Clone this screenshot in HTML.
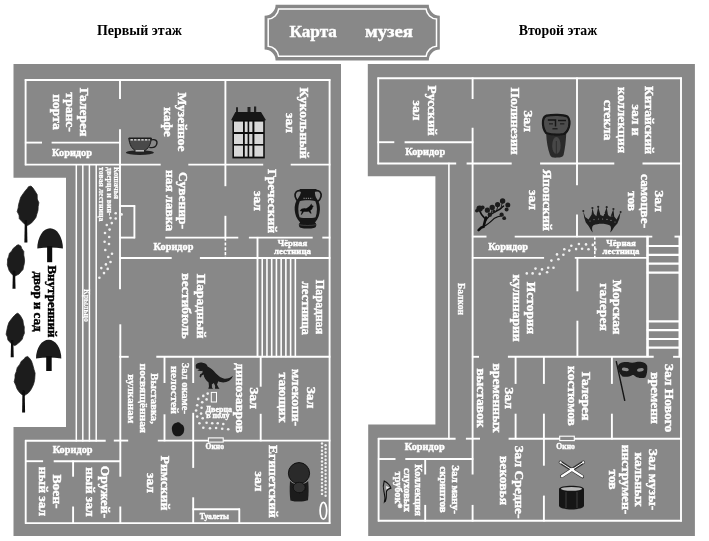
<!DOCTYPE html>
<html><head><meta charset="utf-8"><title>Карта музея</title>
<style>html,body{margin:0;padding:0;background:#fff}svg{display:block}text{font-family:"Liberation Serif",serif}</style>
</head><body>
<svg width="709" height="541" viewBox="0 0 709 541">
<defs><filter id="soft" x="0" y="0" width="709" height="541" filterUnits="userSpaceOnUse"><feGaussianBlur stdDeviation="0.45"/></filter></defs>
<rect width="709" height="541" fill="#fff"/>
<g filter="url(#soft)">
<path d="M13.5 64 H341 V536 H13.5 V427 H66 V177.7 H13.5 Z" fill="#888888"/>
<path d="M367.8 64 H694.9 V536 H368.2 V424.6 H435.4 V176.2 H367.8 Z" fill="#888888"/>
<g>
<path d="M275.6 4.7 H428.8 A11 11 0 0 0 439.8 15.7 V49.5 A11 11 0 0 0 428.8 60.5 H275.6 A11 11 0 0 0 264.6 49.5 V15.7 A11 11 0 0 0 275.6 4.7 Z" fill="#888888"/>
<path d="M278.6 9.1 H426.1 A11.2 11.2 0 0 0 436.5 19 V46.3 A11.2 11.2 0 0 0 426.1 56.2 H278.6 A11.2 11.2 0 0 0 268.2 46.3 V19 A11.2 11.2 0 0 0 278.6 9.1 Z" fill="none" stroke="#fff" stroke-width="1.5"/>
<text x="313.2" y="37.2" font-size="17.3" font-weight="bold" text-anchor="middle" fill="#fff" stroke="#fff" stroke-width="0.4" textLength="47.6" lengthAdjust="spacingAndGlyphs">Карта</text>
<text x="389" y="37.2" font-size="17.3" font-weight="bold" text-anchor="middle" fill="#fff" stroke="#fff" stroke-width="0.4" textLength="48" lengthAdjust="spacingAndGlyphs">музея</text>
</g>

<text x="139.5" y="35" font-size="14" font-weight="bold" text-anchor="middle" fill="#000" textLength="85" lengthAdjust="spacingAndGlyphs">Первый этаж</text>
<text x="558" y="35" font-size="14" font-weight="bold" text-anchor="middle" fill="#000" textLength="78.5" lengthAdjust="spacingAndGlyphs">Второй этаж</text>
<g stroke="#fff" fill="none" stroke-linecap="butt">
<line x1="24.8" y1="80" x2="330.4" y2="80" stroke-width="1.9"/>
<line x1="329.6" y1="79.3" x2="329.6" y2="523.8" stroke-width="1.9"/>
<line x1="25.0" y1="523.1" x2="330.4" y2="523.1" stroke-width="1.9"/>
<line x1="25.6" y1="79.3" x2="25.6" y2="165.3" stroke-width="1.9"/>
<line x1="25.7" y1="440.1" x2="25.7" y2="523.8" stroke-width="1.9"/>
<line x1="24.9" y1="142.6" x2="42.0" y2="142.6" stroke-width="1.9"/>
<line x1="51.6" y1="142.6" x2="120.7" y2="142.6" stroke-width="1.9"/>
<line x1="24.9" y1="164.6" x2="160.7" y2="164.6" stroke-width="1.9"/>
<line x1="188.3" y1="164.6" x2="263.2" y2="164.6" stroke-width="1.9"/>
<line x1="290.7" y1="164.6" x2="330.4" y2="164.6" stroke-width="1.9"/>
<line x1="120" y1="79.3" x2="120" y2="99.0" stroke-width="1.9"/>
<line x1="120" y1="129.3" x2="120" y2="289.3" stroke-width="1.9"/>
<line x1="120.3" y1="324.3" x2="120.3" y2="476.7" stroke-width="1.9"/>
<line x1="120.3" y1="506.5" x2="120.3" y2="523.8" stroke-width="1.9"/>
<line x1="76.3" y1="163.9" x2="76.3" y2="441.5" stroke-width="1.5"/>
<line x1="82.8" y1="163.9" x2="82.8" y2="441.5" stroke-width="1.5"/>
<line x1="89.4" y1="163.9" x2="89.4" y2="441.5" stroke-width="1.5"/>
<line x1="96.2" y1="163.9" x2="96.2" y2="441.5" stroke-width="1.5"/>
<line x1="119.3" y1="206" x2="135.1" y2="206" stroke-width="1.9"/>
<line x1="134.4" y1="205.3" x2="134.4" y2="238.3" stroke-width="1.9"/>
<line x1="119.3" y1="237.6" x2="135.1" y2="237.6" stroke-width="1.9"/>
<line x1="165.3" y1="237.6" x2="238.3" y2="237.6" stroke-width="1.9"/>
<line x1="248.9" y1="237.6" x2="312.7" y2="237.6" stroke-width="1.9"/>
<line x1="322.3" y1="237.6" x2="330.4" y2="237.6" stroke-width="1.9"/>
<line x1="119.3" y1="258" x2="171.7" y2="258" stroke-width="1.9"/>
<line x1="199.9" y1="258" x2="330.4" y2="258" stroke-width="1.9"/>
<line x1="225.4" y1="79.3" x2="225.4" y2="186.2" stroke-width="1.9"/>
<line x1="225.4" y1="215.8" x2="225.4" y2="238.3" stroke-width="1.9"/>
<line x1="225.4" y1="237.6" x2="225.4" y2="258" stroke-width="1.6" stroke-dasharray="3.2 1.6"/>
<line x1="257.5" y1="236.9" x2="257.5" y2="357.2" stroke-width="1.9"/>
<line x1="262.23" y1="257.3" x2="262.23" y2="357.2" stroke-width="1.6"/>
<line x1="266.96" y1="257.3" x2="266.96" y2="357.2" stroke-width="1.6"/>
<line x1="271.69" y1="257.3" x2="271.69" y2="357.2" stroke-width="1.6"/>
<line x1="276.42" y1="257.3" x2="276.42" y2="357.2" stroke-width="1.6"/>
<line x1="281.15" y1="257.3" x2="281.15" y2="357.2" stroke-width="1.6"/>
<line x1="285.88" y1="257.3" x2="285.88" y2="357.2" stroke-width="1.6"/>
<line x1="290.61" y1="257.3" x2="290.61" y2="357.2" stroke-width="1.6"/>
<line x1="295.34000000000003" y1="257.3" x2="295.34000000000003" y2="357.2" stroke-width="1.6"/>
<line x1="119.3" y1="356.8" x2="128.7" y2="356.8" stroke-width="1.9"/>
<line x1="156.3" y1="356.8" x2="330.4" y2="356.8" stroke-width="1.9"/>
<line x1="164.5" y1="356.1" x2="164.5" y2="383.0" stroke-width="1.9"/>
<line x1="164.5" y1="414.3" x2="164.5" y2="441.3" stroke-width="1.9"/>
<line x1="193.2" y1="356.1" x2="193.2" y2="383.0" stroke-width="1.9"/>
<line x1="193.2" y1="412.8" x2="193.2" y2="467.9" stroke-width="1.9"/>
<line x1="193.2" y1="497.3" x2="193.2" y2="523.8" stroke-width="1.9"/>
<line x1="260.7" y1="356.1" x2="260.7" y2="386.7" stroke-width="1.9"/>
<line x1="260.7" y1="413.8" x2="260.7" y2="441.3" stroke-width="1.9"/>
<line x1="113.8" y1="440.6" x2="128.2" y2="440.6" stroke-width="1.9"/>
<line x1="157.8" y1="440.6" x2="330.4" y2="440.6" stroke-width="1.9"/>
<line x1="25.0" y1="440.8" x2="105.7" y2="440.8" stroke-width="1.9"/>
<line x1="25.0" y1="461.2" x2="43.1" y2="461.2" stroke-width="1.9"/>
<line x1="53.7" y1="461.2" x2="121.0" y2="461.2" stroke-width="1.9"/>
<line x1="73.1" y1="460.5" x2="73.1" y2="476.7" stroke-width="1.9"/>
<line x1="73.1" y1="506.5" x2="73.1" y2="523.8" stroke-width="1.9"/>
<line x1="192.5" y1="509.3" x2="240.0" y2="509.3" stroke-width="1.9"/>
<line x1="239.3" y1="508.6" x2="239.3" y2="523.8" stroke-width="1.9"/>
<line x1="377.5" y1="78.2" x2="681.9" y2="78.2" stroke-width="1.9"/>
<line x1="681" y1="77.5" x2="681" y2="521.5" stroke-width="1.9"/>
<line x1="377.9" y1="520.8" x2="681.9" y2="520.8" stroke-width="1.9"/>
<line x1="378.2" y1="77.5" x2="378.2" y2="164.2" stroke-width="1.9"/>
<line x1="378.6" y1="438.0" x2="378.6" y2="521.5" stroke-width="1.9"/>
<line x1="377.5" y1="142.2" x2="394.3" y2="142.2" stroke-width="1.9"/>
<line x1="404.6" y1="142.2" x2="473.3" y2="142.2" stroke-width="1.9"/>
<line x1="377.5" y1="163.5" x2="456.2" y2="163.5" stroke-width="1.9"/>
<line x1="466.6" y1="163.5" x2="511.7" y2="163.5" stroke-width="1.9"/>
<line x1="540.1" y1="163.5" x2="614.3" y2="163.5" stroke-width="1.9"/>
<line x1="642.5" y1="163.5" x2="681.7" y2="163.5" stroke-width="1.9"/>
<line x1="472.6" y1="77.5" x2="472.6" y2="99.0" stroke-width="1.9"/>
<line x1="472.6" y1="127.8" x2="472.6" y2="474.5" stroke-width="1.9"/>
<line x1="472.6" y1="504.9" x2="472.6" y2="521.5" stroke-width="1.9"/>
<line x1="448.9" y1="162.8" x2="448.9" y2="439.4" stroke-width="1.6"/>
<line x1="577" y1="77.5" x2="577" y2="185.2" stroke-width="1.9"/>
<line x1="577" y1="214.6" x2="577" y2="237.3" stroke-width="1.9"/>
<line x1="471.9" y1="236.6" x2="486.5" y2="236.6" stroke-width="1.9"/>
<line x1="514.7" y1="236.6" x2="652.3" y2="236.6" stroke-width="1.9"/>
<line x1="674.5" y1="236.6" x2="681.7" y2="236.6" stroke-width="1.9"/>
<line x1="471.9" y1="257.9" x2="544.1" y2="257.9" stroke-width="1.9"/>
<line x1="574.8" y1="257.9" x2="648.1" y2="257.9" stroke-width="1.9"/>
<line x1="594.8" y1="236.6" x2="594.8" y2="257.8" stroke-width="1.6" stroke-dasharray="3.2 1.6"/>
<line x1="647.4" y1="235.9" x2="647.4" y2="357.1" stroke-width="1.9"/>
<line x1="646.7" y1="246" x2="680.7" y2="246" stroke-width="2.2"/>
<line x1="646.7" y1="254.9" x2="680.7" y2="254.9" stroke-width="2.2"/>
<line x1="646.7" y1="263.7" x2="680.7" y2="263.7" stroke-width="2.2"/>
<line x1="646.7" y1="272.6" x2="680.7" y2="272.6" stroke-width="2.2"/>
<line x1="646.7" y1="321.4" x2="680.7" y2="321.4" stroke-width="2.2"/>
<line x1="646.7" y1="330.2" x2="680.7" y2="330.2" stroke-width="2.2"/>
<line x1="646.7" y1="339" x2="680.7" y2="339" stroke-width="2.2"/>
<line x1="646.7" y1="347.7" x2="680.7" y2="347.7" stroke-width="2.2"/>
<line x1="680.2" y1="235.9" x2="680.2" y2="357.1" stroke-width="3.4"/>
<line x1="647.6" y1="235.9" x2="647.6" y2="357.1" stroke-width="2.3"/>
<line x1="577.4" y1="257.1" x2="577.4" y2="291.3" stroke-width="1.9"/>
<line x1="577.4" y1="320.7" x2="577.4" y2="357.1" stroke-width="1.9"/>
<line x1="471.9" y1="356.8" x2="479.0" y2="356.8" stroke-width="1.9"/>
<line x1="507.9" y1="356.8" x2="653.7" y2="356.8" stroke-width="1.9"/>
<line x1="673.1" y1="356.8" x2="681.7" y2="356.8" stroke-width="1.9"/>
<line x1="515.6" y1="356.1" x2="515.6" y2="383.9" stroke-width="1.9"/>
<line x1="515.6" y1="413.7" x2="515.6" y2="439.5" stroke-width="1.9"/>
<line x1="543.9" y1="356.1" x2="543.9" y2="383.9" stroke-width="1.9"/>
<line x1="543.9" y1="413.7" x2="543.9" y2="439.5" stroke-width="1.9"/>
<line x1="611.9" y1="356.1" x2="611.9" y2="383.9" stroke-width="1.9"/>
<line x1="611.9" y1="413.7" x2="611.9" y2="439.5" stroke-width="1.9"/>
<line x1="377.9" y1="438.7" x2="455.6" y2="438.7" stroke-width="1.9"/>
<line x1="465.9" y1="438.7" x2="480.0" y2="438.7" stroke-width="1.9"/>
<line x1="508.6" y1="438.7" x2="681.7" y2="438.7" stroke-width="1.9"/>
<line x1="543.9" y1="438.0" x2="543.9" y2="465.7" stroke-width="1.9"/>
<line x1="543.9" y1="495.6" x2="543.9" y2="521.5" stroke-width="1.9"/>
<line x1="377.9" y1="459" x2="395.5" y2="459" stroke-width="1.9"/>
<line x1="405.3" y1="459" x2="473.3" y2="459" stroke-width="1.9"/>
<line x1="425.2" y1="458.3" x2="425.2" y2="474.5" stroke-width="1.9"/>
<line x1="425.2" y1="504.9" x2="425.2" y2="521.5" stroke-width="1.9"/>
</g>
<g id="trees">
<path d="M31.0 186.0 L32.8 187.8 L34.8 190.7 L37.2 194.6 L37.3 199.1 L38.9 202.8 L38.2 206.6 L38.0 210.4 L36.9 214.0 L35.9 217.6 L33.7 220.4 L31.4 223.1 L28.8 224.7 L27.7 225.5 L26.3 225.1 L24.2 223.8 L22.0 221.5 L19.3 218.7 L19.0 215.1 L17.2 211.6 L18.2 207.7 L18.6 204.5 L19.5 201.3 L20.7 197.3 L23.1 193.8 L25.3 190.7 L27.3 188.5 L28.5 186.7 Z" fill="#1c1c1c" stroke="#1c1c1c" stroke-width="0.7" stroke-linejoin="round"/>
<path d="M24.8 220.1 L24.4 242.6 L27.4 242.6 L27.0 220.1 Z" fill="#0a0a0a"/>
<path d="M37.3 248.6 A12.8 20.3 0 0 1 62.9 248.6 Q50.1 246.4 37.3 248.6 Z" fill="#1c1c1c"/>
<rect x="47.1" y="246.1" width="5.1" height="16.1" fill="#0a0a0a"/>
<path d="M18.4 244.7 L20.9 246.1 L21.7 248.4 L23.8 251.5 L23.8 255.1 L24.3 258.0 L24.6 261.0 L24.2 264.0 L23.5 266.8 L23.0 269.6 L20.8 271.9 L19.1 274.0 L16.6 275.3 L15.7 275.9 L14.4 275.6 L12.1 274.6 L10.7 272.8 L9.1 270.5 L8.2 267.7 L7.3 264.9 L7.5 261.8 L7.5 259.3 L8.6 256.8 L9.3 253.6 L11.7 250.9 L13.2 248.4 L15.3 246.7 L16.8 245.3 Z" fill="#1c1c1c" stroke="#1c1c1c" stroke-width="0.7" stroke-linejoin="round"/>
<path d="M12.9 270.6 L12.5 288.8 L15.5 288.8 L15.1 270.6 Z" fill="#0a0a0a"/>
<path d="M17.9 313.2 L19.6 314.7 L21.2 317.1 L22.9 320.2 L23.4 324.0 L24.3 327.0 L24.2 330.1 L24.4 333.3 L23.1 336.2 L22.3 339.1 L20.3 341.4 L17.8 343.6 L16.0 345.0 L14.2 345.6 L13.8 345.3 L12.0 344.3 L10.0 342.3 L7.9 340.0 L7.4 337.1 L6.1 334.2 L6.7 331.0 L7.2 328.4 L7.8 325.8 L8.9 322.5 L11.0 319.6 L13.0 317.1 L14.7 315.3 L16.3 313.8 Z" fill="#1c1c1c" stroke="#1c1c1c" stroke-width="0.7" stroke-linejoin="round"/>
<path d="M11.1 340.3 L10.7 357.3 L13.7 357.3 L13.3 340.3 Z" fill="#0a0a0a"/>
<path d="M36.0 358.6 A12.6 18.9 0 0 1 61.3 358.6 Q48.6 356.4 36.0 358.6 Z" fill="#1c1c1c"/>
<rect x="46.2" y="356.1" width="5.5" height="14.9" fill="#0a0a0a"/>
<path d="M27.7 356.5 L29.6 358.3 L31.5 361.1 L32.8 365.0 L34.0 369.5 L35.1 373.1 L34.9 376.9 L34.5 380.7 L33.6 384.2 L32.0 387.7 L30.4 390.6 L28.1 393.2 L25.5 394.8 L24.8 395.6 L23.1 395.2 L21.0 393.9 L18.8 391.6 L17.0 388.8 L15.8 385.3 L14.2 381.8 L15.0 378.0 L15.0 374.8 L16.3 371.6 L17.2 367.7 L19.9 364.2 L21.3 361.2 L24.1 359.0 L25.4 357.2 Z" fill="#1c1c1c" stroke="#1c1c1c" stroke-width="0.7" stroke-linejoin="round"/>
<path d="M22.5 390.2 L22.1 412.6 L25.1 412.6 L24.7 390.2 Z" fill="#0a0a0a"/>
</g>
<g id="cup">
<ellipse cx="139.9" cy="152.6" rx="14" ry="2.4" fill="#222"/>
<path d="M128.8 138 C129.5 145 132 149 136 151 L144 151 C148 149 150.7 145 151.4 138 Z" fill="#4a4a4a" stroke="#1a1a1a" stroke-width="1"/>
<path d="M150.6 140 C155.5 138.5 158 141 156.6 144.5 C155.5 147.3 152.5 148 149.3 147.3" fill="none" stroke="#1a1a1a" stroke-width="1.3"/>
<path d="M129.6 138.6 L151 138.6" stroke="#1a1a1a" stroke-width="1.2"/>
<path d="M130.5 139.9 L149.8 139.9" stroke="#eee" stroke-width="1.3" stroke-dasharray="2.4 1.2"/>
<rect x="135.5" y="150.2" width="8.5" height="1.3" fill="#ddd"/>
</g>
<g id="house">
<path d="M236 107.2 h2 v4.8 h-2z M247.5 107 h3 v5 h-3z M254 106.5 h2.2 v5.5 h-2.2z" fill="#222"/>
<path d="M235.4 112 L261 112 L266 120.2 L231 120.2 Z" fill="#161616"/>
<rect x="232.4" y="119.8" width="32.4" height="38.6" fill="#111"/>
<g fill="#d8d8d8">
<rect x="234" y="121.6" width="9" height="10.4"/><rect x="244.8" y="121.6" width="2.8" height="10.4"/><rect x="249.2" y="121.6" width="3.2" height="10.4"/><rect x="254.4" y="121.6" width="8.8" height="10.4"/>
<rect x="234" y="134" width="9" height="10"/><rect x="244.8" y="134" width="2.8" height="10"/><rect x="249.2" y="134" width="3.2" height="10"/><rect x="254.4" y="134" width="8.8" height="10"/>
<rect x="234" y="145.6" width="9" height="11"/><rect x="244.8" y="145.6" width="2.8" height="11"/><rect x="249.2" y="145.6" width="3.2" height="11"/><rect x="254.4" y="145.6" width="8.8" height="11"/>
</g>
</g>
<g id="vase">
<path d="M299.6 189 H316.6 L316.2 191.2 L314.9 192 C315 194.5 315.4 196.6 316.6 198.4 C319.4 201.6 320.2 206 319.9 210 C319.6 214.5 318.4 218.5 315 222.6 C316.4 223.6 316.6 225 316 226.4 C315.4 227.8 313 228.4 307.6 228.4 C302.2 228.4 299.8 227.8 299.2 226.4 C298.6 225 298.8 223.6 300.2 222.6 C296.4 218.5 295 214.5 294.7 210 C294.4 206 295.2 201.6 298 198.4 C299.2 196.6 300.6 194.5 300.9 192 L299.9 191.2 Z" fill="#181818"/>
<path d="M300.6 190.8 C296.6 190 294.4 193 295.2 196.6 C295.8 199 297 200.6 298.6 201.6" fill="none" stroke="#181818" stroke-width="1.7"/>
<path d="M315.6 190.8 C319.6 190 321.8 193 321 196.6 C320.4 199 319.2 200.6 317.6 201.6" fill="none" stroke="#181818" stroke-width="1.7"/>
<path d="M299.8 201.2 C303.4 199.8 311.8 199.8 315.4 201.2 C317.4 206 317.4 212 315.6 217.2 C311.4 218.4 303.8 218.4 299.6 217.2 C297.8 212 297.8 206 299.8 201.2 Z" fill="#828282"/>
<path d="M299.8 211 C301 208.5 303.5 208 306 208.6 C308.5 207.4 310 206 311.3 203.6 L312 205.3 L313.8 206 L312.7 207.3 C312.6 209 311.6 210 310.4 210.6 L311.6 213.4 L310.4 213.5 L308.6 211.4 C306.6 211.8 305 211.6 303.8 211.8 L301.8 214.8 L300.8 214.5 L302 211.6 Z" fill="#111"/>
<path d="M303.5 198.3 H312.5" stroke="#bbb" stroke-width="0.8" stroke-dasharray="1.2 1"/>
<path d="M298.6 224.6 C303 225.8 312 225.8 316.4 224.6" stroke="#555" stroke-width="0.6" fill="none"/>
</g>
<g id="dino">
<path d="M195.7 365.2 C196.5 363 199.5 362.3 202.5 362.7 C205.5 363 207.3 364.5 207.6 366.6 C210.5 368 213.5 370.5 216 373.5 C218.5 376 221.5 378.3 224.5 378.8 C227.5 379 230.5 377.8 232.9 375.8 C231.8 379.3 228.5 381.8 224.8 382.3 C222 382.6 220 382 218.3 381.2 L217 384.5 L218.5 387.5 L219.5 388.8 L215 388.8 L215.2 386 L213.8 383 L211.8 384.6 L212 387.6 L213 388.8 L208.3 388.8 L209 386.6 L208.6 382.4 C205.8 380.4 204 377.6 203.6 374.6 L201.6 375.6 L201 377.4 L199.6 377 L200 374.6 L202.4 373 L202.6 370.8 C200.5 371.3 198.5 371.2 197.3 370.3 L199.8 368.9 L196 368.5 Z" fill="#1a1a1a"/>
</g>
<path id="rock" d="M172 430 C171.2 426.5 173.5 423.2 176.5 422.8 C178 421.8 180 422.5 181 424 C183.6 425 184.8 428 184 431 C183.6 434.5 180.5 436.8 177 436.3 C174.3 436.2 172.3 433.5 172 430 Z" fill="#161616"/>
<rect x="211.3" y="392.4" width="5.2" height="9.6" fill="none" stroke="#fff" stroke-width="1"/>
<rect x="208.4" y="437.9" width="14.8" height="4.2" fill="#888888" stroke="#fff" stroke-width="1.1"/>
<rect x="559.7" y="436.2" width="14.6" height="4.4" fill="#888888" stroke="#fff" stroke-width="1.1"/>
<g fill="#f0f0f0"><circle cx="207.7" cy="393.6" r="1.3"/><circle cx="203.3" cy="395.9" r="1.3"/><circle cx="198.3" cy="398.9" r="1.3"/><circle cx="206.6" cy="399.4" r="1.3"/><circle cx="202.2" cy="402.2" r="1.3"/><circle cx="197.2" cy="405.2" r="1.3"/><circle cx="201.6" cy="407.7" r="1.3"/><circle cx="196.1" cy="410.5" r="1.3"/><circle cx="201.1" cy="413.6" r="1.3"/><circle cx="197.2" cy="416.6" r="1.3"/><circle cx="202.7" cy="418.3" r="1.3"/><circle cx="199.4" cy="423.2" r="1.3"/><circle cx="206.6" cy="422.7" r="1.3"/><circle cx="212.2" cy="423.2" r="1.3"/><circle cx="217.7" cy="423.2" r="1.3"/><circle cx="223.3" cy="424" r="1.3"/><circle cx="203.3" cy="427.7" r="1.3"/><circle cx="210" cy="428.2" r="1.3"/><circle cx="216.1" cy="428" r="1.3"/><circle cx="222.2" cy="428.8" r="1.3"/><circle cx="228.2" cy="429.3" r="1.3"/></g>
<g fill="#f0f0f0"><circle cx="121.6" cy="214.4" r="1.3"/><circle cx="115.7" cy="213.3" r="1.3"/><circle cx="115.7" cy="218.5" r="1.3"/><circle cx="110.5" cy="218.1" r="1.3"/><circle cx="111.8" cy="223.1" r="1.3"/><circle cx="106.8" cy="225" r="1.3"/><circle cx="109.6" cy="229.6" r="1.3"/><circle cx="105" cy="233" r="1.3"/><circle cx="109.2" cy="237" r="1.3"/><circle cx="104.6" cy="241.7" r="1.3"/><circle cx="109" cy="244" r="1.3"/><circle cx="105.3" cy="250" r="1.3"/><circle cx="112" cy="253.7" r="1.3"/><circle cx="108.3" cy="257" r="1.3"/><circle cx="110.5" cy="262" r="1.3"/><circle cx="105.9" cy="264.4" r="1.3"/><circle cx="101.3" cy="268.1" r="1.3"/><circle cx="107.7" cy="268.9" r="1.3"/><circle cx="104" cy="273.1" r="1.3"/><circle cx="99.4" cy="277.8" r="1.3"/></g>
<g fill="#f0f0f0"><circle cx="592.8" cy="244.9" r="1.3"/><circle cx="586" cy="244.4" r="1.3"/><circle cx="578.9" cy="244" r="1.3"/><circle cx="571.3" cy="245.7" r="1.3"/><circle cx="595.4" cy="249.4" r="1.3"/><circle cx="588.5" cy="249.2" r="1.3"/><circle cx="582.1" cy="248.8" r="1.3"/><circle cx="576.1" cy="249.1" r="1.3"/><circle cx="569.3" cy="250.6" r="1.3"/><circle cx="564.3" cy="249.3" r="1.3"/><circle cx="563.4" cy="254.7" r="1.3"/><circle cx="557" cy="254.4" r="1.3"/><circle cx="558.4" cy="259.3" r="1.3"/><circle cx="551.4" cy="260.6" r="1.3"/><circle cx="553.5" cy="267.7" r="1.3"/><circle cx="548.2" cy="267.7" r="1.3"/><circle cx="542" cy="269.4" r="1.3"/><circle cx="535.5" cy="268.6" r="1.3"/><circle cx="547.1" cy="272.2" r="1.3"/><circle cx="539.7" cy="273.9" r="1.3"/><circle cx="532.6" cy="273.4" r="1.3"/><circle cx="526.8" cy="273.4" r="1.3"/></g>
<g fill="#f0f0f0"><circle cx="322.0" cy="443.5" r="1.2"/><circle cx="325.6" cy="445.3" r="1.2"/><circle cx="322.0" cy="447.1" r="1.2"/><circle cx="325.6" cy="448.9" r="1.2"/><circle cx="322.0" cy="450.7" r="1.2"/><circle cx="325.6" cy="452.5" r="1.2"/><circle cx="322.0" cy="454.3" r="1.2"/><circle cx="325.6" cy="456.1" r="1.2"/><circle cx="322.0" cy="457.9" r="1.2"/><circle cx="325.6" cy="459.7" r="1.2"/><circle cx="322.0" cy="461.5" r="1.2"/><circle cx="325.6" cy="463.3" r="1.2"/><circle cx="322.0" cy="465.1" r="1.2"/><circle cx="325.6" cy="466.9" r="1.2"/><circle cx="322.0" cy="468.7" r="1.2"/><circle cx="325.6" cy="470.5" r="1.2"/><circle cx="322.0" cy="472.3" r="1.2"/><circle cx="325.6" cy="474.1" r="1.2"/><circle cx="322.0" cy="475.9" r="1.2"/><circle cx="325.6" cy="477.7" r="1.2"/><circle cx="322.0" cy="479.5" r="1.2"/><circle cx="325.6" cy="481.3" r="1.2"/><circle cx="322.0" cy="483.1" r="1.2"/><circle cx="325.6" cy="484.9" r="1.2"/><circle cx="322.0" cy="486.7" r="1.2"/><circle cx="325.6" cy="488.5" r="1.2"/><circle cx="322.0" cy="490.3" r="1.2"/><circle cx="325.6" cy="492.1" r="1.2"/><circle cx="322.0" cy="493.9" r="1.2"/><circle cx="325.6" cy="495.7" r="1.2"/></g>
<ellipse cx="323.4" cy="510.8" rx="3.3" ry="8.4" fill="none" stroke="#fff" stroke-width="1.7"/>
<g id="statue">
<circle cx="299" cy="473.2" r="10.6" fill="#2a2a2a" stroke="#111" stroke-width="1"/>
<path d="M290 481 C289.5 488 289.6 495 290.4 500.4 C296 502 303 502 308 500.2 C308.8 494 308.8 487 308.2 481 C303 486 295 486 290 481 Z" fill="#1c1c1c"/>
<ellipse cx="299.2" cy="487.5" rx="6" ry="5.2" fill="#333" stroke="#0c0c0c" stroke-width="0.8"/>
</g>
<g id="tiki">
<path d="M546.2 134 C546.5 141 547.5 148 550 155 C551 157.6 554 158 557.5 157.6 C560.5 157.5 563 157 563.6 155 C565 148.5 566 141 566.2 134 Z" fill="#2c2c2c"/>
<ellipse cx="556.4" cy="145.5" rx="4.2" ry="8.5" fill="#474747"/><path d="M556.4 141 V156" stroke="#2a2a2a" stroke-width="0.8"/>
<path d="M546.6 115.6 C553 114.4 563 114.6 567.4 116.4 C569.6 119 569.8 123 569 126.6 C568 130 566 133 563.8 134 C558 135 551 134.8 546 133 C543.6 129.5 542.6 125 543 121 C543.2 118.5 544.6 116.4 546.6 115.6 Z" fill="#4e4e4e" stroke="#151515" stroke-width="2.2" stroke-linejoin="round"/>
<path d="M547.8 120 H555.5 V126.5 M558 120.4 H566" fill="none" stroke="#151515" stroke-width="1.5"/>
<path d="M549 123.8 H553 M560 123.8 H564.4" stroke="#222" stroke-width="1.2"/>
<path d="M552.4 128.8 H557.6" stroke="#1a1a1a" stroke-width="1.2"/>
</g>
<g id="bonsai" stroke="#111" fill="none" stroke-linecap="round">
<path d="M478.6 230.2 L481.2 227.6 L483.6 226.8 L485 221 L486 217.5" stroke-width="2.6"/>
<path d="M485.6 219 C483 216.5 481 215 480 211.6 L478.4 208.6" stroke-width="1.6"/>
<path d="M485.6 221 C488 216.5 491.5 213.6 495.5 211.6 C499 210 501.5 208.4 503.6 206" stroke-width="1.4"/>
<path d="M483.8 226.4 C488 224.4 491 221.5 494 218.6 C497 216.6 500 216 503 215.4" stroke-width="1.2"/>
<path d="M491 214 L492.4 208.6 M496.5 211 L498 205.6 M501 208 L502.4 202" stroke-width="0.9"/>
</g>
<g fill="#1d1d1d">
<circle cx="479.6" cy="208.6" r="3.2"/><circle cx="476.8" cy="210.8" r="1.8"/><circle cx="482.6" cy="207.4" r="2"/>
<circle cx="487.4" cy="210.2" r="2.6"/><circle cx="492.2" cy="207.4" r="2.7"/><circle cx="489.8" cy="214.8" r="2.2"/>
<circle cx="497.6" cy="204.6" r="2.6"/><circle cx="502.6" cy="201" r="2.7"/><circle cx="507.8" cy="205" r="2.5"/>
<circle cx="506.6" cy="209.6" r="2"/><circle cx="501.6" cy="214.6" r="2.1"/><circle cx="504.2" cy="218.2" r="1.9"/><circle cx="494" cy="211.4" r="1.6"/>
</g>
<g id="crown">
<path d="M583.2 211 L585.2 217 L588.5 219.6 L591.6 214.6 L592.4 208 L594 214 L596.4 216 L598.2 206.8 L600.4 215 L603.4 216.2 L606.7 207.2 L608 215 L610.4 217 L613.4 209 L614.2 216.4 L616.6 219.6 L620.6 212 L619.4 218.6 L617.4 223.6 L614.6 226.6 C613 228.6 612.6 230.4 610.2 232.6 C611.2 229 611.4 227 610 225.4 C605.6 223.2 598.4 223 593.4 225.2 C591.6 226.8 591.8 229 592.8 232.4 C590.4 230 590 228 588.6 226 L585.8 222.6 L584.2 217.6 Z" fill="#1b1b1b"/>
<g fill="#222"><circle cx="583.3" cy="211" r="1"/><circle cx="592.4" cy="208" r="1.1"/><circle cx="598.2" cy="206.8" r="1.1"/><circle cx="606.7" cy="207.2" r="1.1"/><circle cx="613.4" cy="209" r="1.1"/><circle cx="620.6" cy="212" r="1"/></g>
<g fill="#888"><circle cx="590" cy="221" r="0.6"/><circle cx="594" cy="219.6" r="0.6"/><circle cx="598.4" cy="219" r="0.6"/><circle cx="602.6" cy="219" r="0.6"/><circle cx="607" cy="219.4" r="0.6"/><circle cx="611" cy="220.4" r="0.6"/><circle cx="615" cy="222" r="0.6"/><circle cx="596" cy="215" r="0.5"/><circle cx="604.6" cy="213.6" r="0.5"/><circle cx="612" cy="216" r="0.5"/></g>
</g>
<g id="mask">
<path d="M616.2 361.2 L624.8 400.9" stroke="#151515" stroke-width="1.4"/>
<path d="M618 366 C619 362.6 623 361.6 628 362 C630.5 362.9 633.5 362.9 636.5 362 C641 361.4 646 362.4 647.2 366 C647.6 370 647 374.4 645.4 377.4 C642 378.6 638 378.2 635.6 376.6 C634.4 375.2 633 374.6 631.6 375.4 C629.6 376.6 626 377.2 622.4 376.4 C619.4 374 617.8 370 618 366 Z" fill="#1a1a1a"/>
<ellipse cx="625.3" cy="369.4" rx="3.5" ry="1.7" fill="#8a8a8a" transform="rotate(8 625.3 369.4)"/>
<ellipse cx="640.4" cy="369.8" rx="3.4" ry="1.7" fill="#8a8a8a" transform="rotate(-10 640.4 369.8)"/>
</g>
<g id="drum">
<path d="M560.4 462.3 L582.4 476.6" stroke="#333" stroke-width="3.4" stroke-linecap="round"/>
<path d="M583.4 462.3 L561.7 476.3" stroke="#333" stroke-width="3.4" stroke-linecap="round"/>
<path d="M560.4 462.3 L571 469.2" stroke="#fff" stroke-width="1" stroke-linecap="round"/>
<path d="M571 469.2 L582.2 476.4" stroke="#fff" stroke-width="2.2" stroke-linecap="round"/>
<path d="M583.4 462.3 L573 469" stroke="#fff" stroke-width="1" stroke-linecap="round"/>
<path d="M573 469 L561.9 476.2" stroke="#fff" stroke-width="2.4" stroke-linecap="round"/>
<circle cx="560.5" cy="462.4" r="1.1" fill="#fff"/><circle cx="583.3" cy="462.4" r="1.1" fill="#fff"/>
<path d="M559 489 C559 484.5 584 484.5 584 489 L584 505.6 C584 510.8 559 510.8 559 505.6 Z" fill="#181818"/>
<ellipse cx="571.5" cy="488.8" rx="10.6" ry="1.9" fill="#b8b8b8"/>
<path d="M566 492 V508 M577 492 V508" stroke="#3a3a3a" stroke-width="1"/>
</g>
<g id="trumpet">
<path d="M384.2 481 C387 482.5 390 485 390.9 488.1 C389 488.6 387.4 489.4 386.6 491 C386 494 387 497.6 385.6 500.6 L384.6 501.6 C385.6 498 384.6 495 384 492 C383 488.6 383 484.6 384.2 481 Z" fill="none" stroke="#111" stroke-width="1.1"/>
<path d="M386 486 L389.4 487.6 L386.4 489.6 Z" fill="#eee"/>
<circle cx="384.8" cy="501.2" r="0.9" fill="#111"/>
</g>
<g>
<text transform="translate(83.2,112.0) rotate(90)" x="0" y="3.24" font-size="13.5" fill="#ffffff" stroke="#ffffff" stroke-width="0.45" text-anchor="middle" font-weight="bold">Галерея</text>
<text transform="translate(69.6,112.0) rotate(90)" x="0" y="3.24" font-size="13.5" fill="#ffffff" stroke="#ffffff" stroke-width="0.45" text-anchor="middle" font-weight="bold">транс-</text>
<text transform="translate(56.3,112.0) rotate(90)" x="0" y="3.24" font-size="13.5" fill="#ffffff" stroke="#ffffff" stroke-width="0.45" text-anchor="middle" font-weight="bold">порта</text>
<text x="72.0" y="155.78" font-size="10.3" fill="#ffffff" stroke="#ffffff" stroke-width="0.4" text-anchor="middle" font-weight="bold">Коридор</text>
<text transform="translate(181.6,122.0) rotate(90)" x="0" y="3.24" font-size="13.5" fill="#ffffff" stroke="#ffffff" stroke-width="0.45" text-anchor="middle" font-weight="bold">Музейное</text>
<text transform="translate(167.6,122.0) rotate(90)" x="0" y="3.24" font-size="13.5" fill="#ffffff" stroke="#ffffff" stroke-width="0.45" text-anchor="middle" font-weight="bold">кафе</text>
<text transform="translate(303.0,123.0) rotate(90)" x="0" y="3.24" font-size="13.5" fill="#ffffff" stroke="#ffffff" stroke-width="0.45" text-anchor="middle" font-weight="bold">Кукольный</text>
<text transform="translate(289.0,123.0) rotate(90)" x="0" y="3.24" font-size="13.5" fill="#ffffff" stroke="#ffffff" stroke-width="0.45" text-anchor="middle" font-weight="bold">зал</text>
<text transform="translate(182.6,200.5) rotate(90)" x="0" y="3.24" font-size="13.5" fill="#ffffff" stroke="#ffffff" stroke-width="0.45" text-anchor="middle" font-weight="bold">Сувенир-</text>
<text transform="translate(169.3,200.5) rotate(90)" x="0" y="3.24" font-size="13.5" fill="#ffffff" stroke="#ffffff" stroke-width="0.45" text-anchor="middle" font-weight="bold">ная лавка</text>
<text transform="translate(270.8,201.0) rotate(90)" x="0" y="3.24" font-size="13.5" fill="#ffffff" stroke="#ffffff" stroke-width="0.45" text-anchor="middle" font-weight="bold">Греческий</text>
<text transform="translate(257.0,201.0) rotate(90)" x="0" y="3.24" font-size="13.5" fill="#ffffff" stroke="#ffffff" stroke-width="0.45" text-anchor="middle" font-weight="bold">зал</text>
<text x="173.5" y="250.28" font-size="10.3" fill="#ffffff" stroke="#ffffff" stroke-width="0.4" text-anchor="middle" font-weight="bold">Коридор</text>
<text x="292.5" y="245.78" font-size="8.8" fill="#ffffff" stroke="#ffffff" stroke-width="0.4" text-anchor="middle" font-weight="bold">Чёрная</text>
<text x="292.5" y="254.18" font-size="8.8" fill="#ffffff" stroke="#ffffff" stroke-width="0.4" text-anchor="middle" font-weight="bold">лестница</text>
<text transform="translate(200.5,306.0) rotate(90)" x="0" y="3.24" font-size="13.5" fill="#ffffff" stroke="#ffffff" stroke-width="0.45" text-anchor="middle" font-weight="bold">Парадный</text>
<text transform="translate(185.7,306.0) rotate(90)" x="0" y="3.24" font-size="13.5" fill="#ffffff" stroke="#ffffff" stroke-width="0.45" text-anchor="middle" font-weight="bold">вестибюль</text>
<text transform="translate(319.5,307.0) rotate(90)" x="0" y="3.02" font-size="12.6" fill="#ffffff" stroke="#ffffff" stroke-width="0.45" text-anchor="middle" font-weight="bold" textLength="54.3" lengthAdjust="spacingAndGlyphs">Парадная</text>
<text transform="translate(305.2,308.2) rotate(90)" x="0" y="3.02" font-size="12.6" fill="#ffffff" stroke="#ffffff" stroke-width="0.45" text-anchor="middle" font-weight="bold" textLength="53.3" lengthAdjust="spacingAndGlyphs">лестница</text>
<text transform="translate(50.8,301.5) rotate(90)" x="0" y="3.12" font-size="13" fill="#000" stroke="#000" stroke-width="0.45" text-anchor="middle" font-weight="bold">Внутренний</text>
<text transform="translate(37.0,301.5) rotate(90)" x="0" y="3.12" font-size="13" fill="#000" stroke="#000" stroke-width="0.45" text-anchor="middle" font-weight="bold">двор и сад</text>
<text transform="translate(86.3,305.5) rotate(90)" x="0" y="1.87" font-size="7.8" fill="#ffffff" stroke="#ffffff" stroke-width="0.15" text-anchor="middle" font-weight="bold">Крыльцо</text>
<text transform="translate(153.5,398.6) rotate(90)" x="0" y="2.64" font-size="11" fill="#ffffff" stroke="#ffffff" stroke-width="0.35" text-anchor="middle" font-weight="bold" textLength="50.5" lengthAdjust="spacingAndGlyphs">Выставка,</text>
<text transform="translate(142.5,398.3) rotate(90)" x="0" y="2.64" font-size="11" fill="#ffffff" stroke="#ffffff" stroke-width="0.35" text-anchor="middle" font-weight="bold" textLength="69.5" lengthAdjust="spacingAndGlyphs">посвящённая</text>
<text transform="translate(130.6,398.8) rotate(90)" x="0" y="2.64" font-size="11" fill="#ffffff" stroke="#ffffff" stroke-width="0.35" text-anchor="middle" font-weight="bold" textLength="49.3" lengthAdjust="spacingAndGlyphs">вулканам</text>
<text transform="translate(184.3,388.3) rotate(90)" x="0" y="2.64" font-size="11" fill="#ffffff" stroke="#ffffff" stroke-width="0.35" text-anchor="middle" font-weight="bold" textLength="51.3" lengthAdjust="spacingAndGlyphs">Зал окаме-</text>
<text transform="translate(173.5,389.9) rotate(90)" x="0" y="2.64" font-size="11" fill="#ffffff" stroke="#ffffff" stroke-width="0.35" text-anchor="middle" font-weight="bold" textLength="48" lengthAdjust="spacingAndGlyphs">нелостей</text>
<text transform="translate(253.2,398.0) rotate(90)" x="0" y="3.24" font-size="13.5" fill="#ffffff" stroke="#ffffff" stroke-width="0.45" text-anchor="middle" font-weight="bold">Зал</text>
<text transform="translate(239.3,398.0) rotate(90)" x="0" y="3.24" font-size="13.5" fill="#ffffff" stroke="#ffffff" stroke-width="0.45" text-anchor="middle" font-weight="bold">динозавров</text>
<text transform="translate(310.5,397.5) rotate(90)" x="0" y="3.24" font-size="13.5" fill="#ffffff" stroke="#ffffff" stroke-width="0.45" text-anchor="middle" font-weight="bold">Зал</text>
<text transform="translate(295.6,397.5) rotate(90)" x="0" y="3.24" font-size="13.5" fill="#ffffff" stroke="#ffffff" stroke-width="0.45" text-anchor="middle" font-weight="bold">млекопи-</text>
<text transform="translate(282.4,397.5) rotate(90)" x="0" y="3.24" font-size="13.5" fill="#ffffff" stroke="#ffffff" stroke-width="0.45" text-anchor="middle" font-weight="bold">тающих</text>
<text x="218.8" y="411.96" font-size="8" fill="#ffffff" stroke="#ffffff" stroke-width="0.4" text-anchor="middle" font-weight="bold">Дверца</text>
<text x="217.8" y="418.46" font-size="8" fill="#ffffff" stroke="#ffffff" stroke-width="0.4" text-anchor="middle" font-weight="bold">в полу</text>
<text x="214.8" y="448.95" font-size="7.6" fill="#ffffff" stroke="#ffffff" stroke-width="0.4" text-anchor="middle" font-weight="bold">Окно</text>
<text x="72.6" y="452.78" font-size="10.3" fill="#ffffff" stroke="#ffffff" stroke-width="0.4" text-anchor="middle" font-weight="bold">Коридор</text>
<text transform="translate(55.8,491.5) rotate(90)" x="0" y="3.24" font-size="13.5" fill="#ffffff" stroke="#ffffff" stroke-width="0.45" text-anchor="middle" font-weight="bold">Воен-</text>
<text transform="translate(41.9,491.5) rotate(90)" x="0" y="3.24" font-size="13.5" fill="#ffffff" stroke="#ffffff" stroke-width="0.45" text-anchor="middle" font-weight="bold">ный зал</text>
<text transform="translate(103.8,492.0) rotate(90)" x="0" y="3.24" font-size="13.5" fill="#ffffff" stroke="#ffffff" stroke-width="0.45" text-anchor="middle" font-weight="bold">Оружей-</text>
<text transform="translate(88.8,492.0) rotate(90)" x="0" y="3.24" font-size="13.5" fill="#ffffff" stroke="#ffffff" stroke-width="0.45" text-anchor="middle" font-weight="bold">ный зал</text>
<text transform="translate(164.7,483.0) rotate(90)" x="0" y="3.24" font-size="13.5" fill="#ffffff" stroke="#ffffff" stroke-width="0.45" text-anchor="middle" font-weight="bold">Римский</text>
<text transform="translate(150.7,483.0) rotate(90)" x="0" y="3.24" font-size="13.5" fill="#ffffff" stroke="#ffffff" stroke-width="0.45" text-anchor="middle" font-weight="bold">зал</text>
<text transform="translate(272.5,481.5) rotate(90)" x="0" y="3.24" font-size="13.5" fill="#ffffff" stroke="#ffffff" stroke-width="0.45" text-anchor="middle" font-weight="bold">Египетский</text>
<text transform="translate(258.2,481.5) rotate(90)" x="0" y="3.24" font-size="13.5" fill="#ffffff" stroke="#ffffff" stroke-width="0.45" text-anchor="middle" font-weight="bold">зал</text>
<text x="214.4" y="519.02" font-size="7.5" fill="#ffffff" stroke="#ffffff" stroke-width="0.4" text-anchor="middle" font-weight="bold">Туалеты</text>
<text transform="translate(116.0,167.0) rotate(90)" x="0" y="1.87" font-size="7.8" fill="#ffffff" stroke="#ffffff" stroke-width="0.2" text-anchor="start" font-weight="bold">Кошачья</text>
<text transform="translate(108.5,167.0) rotate(90)" x="0" y="1.87" font-size="7.8" fill="#ffffff" stroke="#ffffff" stroke-width="0.2" text-anchor="start" font-weight="bold">дверца и вин-</text>
<text transform="translate(101.3,167.0) rotate(90)" x="0" y="1.87" font-size="7.8" fill="#ffffff" stroke="#ffffff" stroke-width="0.2" text-anchor="start" font-weight="bold">товая лестница</text>
<text transform="translate(431.1,110.5) rotate(90)" x="0" y="3.24" font-size="13.5" fill="#ffffff" stroke="#ffffff" stroke-width="0.45" text-anchor="middle" font-weight="bold">Русский</text>
<text transform="translate(416.4,110.5) rotate(90)" x="0" y="3.24" font-size="13.5" fill="#ffffff" stroke="#ffffff" stroke-width="0.45" text-anchor="middle" font-weight="bold">зал</text>
<text x="425.2" y="155.08" font-size="10.3" fill="#ffffff" stroke="#ffffff" stroke-width="0.4" text-anchor="middle" font-weight="bold">Коридор</text>
<text transform="translate(527.6,121.0) rotate(90)" x="0" y="3.24" font-size="13.5" fill="#ffffff" stroke="#ffffff" stroke-width="0.45" text-anchor="middle" font-weight="bold">Зал</text>
<text transform="translate(513.9,121.0) rotate(90)" x="0" y="3.24" font-size="13.5" fill="#ffffff" stroke="#ffffff" stroke-width="0.45" text-anchor="middle" font-weight="bold">Полинезии</text>
<text transform="translate(648.2,120.0) rotate(90)" x="0" y="3.24" font-size="13.5" fill="#ffffff" stroke="#ffffff" stroke-width="0.45" text-anchor="middle" font-weight="bold">Китайский</text>
<text transform="translate(634.9,120.0) rotate(90)" x="0" y="3.24" font-size="13.5" fill="#ffffff" stroke="#ffffff" stroke-width="0.45" text-anchor="middle" font-weight="bold">зал и</text>
<text transform="translate(621.4,120.0) rotate(90)" x="0" y="3.24" font-size="13.5" fill="#ffffff" stroke="#ffffff" stroke-width="0.45" text-anchor="middle" font-weight="bold">коллекция</text>
<text transform="translate(607.4,120.0) rotate(90)" x="0" y="3.24" font-size="13.5" fill="#ffffff" stroke="#ffffff" stroke-width="0.45" text-anchor="middle" font-weight="bold">стекла</text>
<text transform="translate(546.6,200.0) rotate(90)" x="0" y="3.24" font-size="13.5" fill="#ffffff" stroke="#ffffff" stroke-width="0.45" text-anchor="middle" font-weight="bold">Японский</text>
<text transform="translate(532.7,200.0) rotate(90)" x="0" y="3.24" font-size="13.5" fill="#ffffff" stroke="#ffffff" stroke-width="0.45" text-anchor="middle" font-weight="bold">зал</text>
<text transform="translate(658.5,201.0) rotate(90)" x="0" y="3.24" font-size="13.5" fill="#ffffff" stroke="#ffffff" stroke-width="0.45" text-anchor="middle" font-weight="bold">Зал</text>
<text transform="translate(644.6,201.0) rotate(90)" x="0" y="3.24" font-size="13.5" fill="#ffffff" stroke="#ffffff" stroke-width="0.45" text-anchor="middle" font-weight="bold">самоцве-</text>
<text transform="translate(631.6,201.0) rotate(90)" x="0" y="3.24" font-size="13.5" fill="#ffffff" stroke="#ffffff" stroke-width="0.45" text-anchor="middle" font-weight="bold">тов</text>
<text x="508.1" y="250.18" font-size="10.3" fill="#ffffff" stroke="#ffffff" stroke-width="0.4" text-anchor="middle" font-weight="bold">Коридор</text>
<text x="621.0" y="245.58" font-size="8.8" fill="#ffffff" stroke="#ffffff" stroke-width="0.4" text-anchor="middle" font-weight="bold">Чёрная</text>
<text x="621.0" y="253.78" font-size="8.8" fill="#ffffff" stroke="#ffffff" stroke-width="0.4" text-anchor="middle" font-weight="bold">лестница</text>
<text transform="translate(459.9,299.0) rotate(90)" x="0" y="2.28" font-size="9.5" fill="#ffffff" stroke="#ffffff" stroke-width="0.3" text-anchor="middle" font-weight="bold">Балкон</text>
<text transform="translate(530.3,308.0) rotate(90)" x="0" y="3.24" font-size="13.5" fill="#ffffff" stroke="#ffffff" stroke-width="0.45" text-anchor="middle" font-weight="bold">История</text>
<text transform="translate(515.9,308.0) rotate(90)" x="0" y="3.24" font-size="13.5" fill="#ffffff" stroke="#ffffff" stroke-width="0.45" text-anchor="middle" font-weight="bold">кулинарии</text>
<text transform="translate(616.6,307.0) rotate(90)" x="0" y="3.24" font-size="13.5" fill="#ffffff" stroke="#ffffff" stroke-width="0.45" text-anchor="middle" font-weight="bold">Морская</text>
<text transform="translate(603.1,307.0) rotate(90)" x="0" y="3.24" font-size="13.5" fill="#ffffff" stroke="#ffffff" stroke-width="0.45" text-anchor="middle" font-weight="bold">галерея</text>
<text transform="translate(508.0,398.0) rotate(90)" x="0" y="3.24" font-size="13.5" fill="#ffffff" stroke="#ffffff" stroke-width="0.45" text-anchor="middle" font-weight="bold">Зал</text>
<text transform="translate(495.8,398.0) rotate(90)" x="0" y="3.24" font-size="13.5" fill="#ffffff" stroke="#ffffff" stroke-width="0.45" text-anchor="middle" font-weight="bold">временных</text>
<text transform="translate(480.6,398.0) rotate(90)" x="0" y="3.24" font-size="13.5" fill="#ffffff" stroke="#ffffff" stroke-width="0.45" text-anchor="middle" font-weight="bold">выставок</text>
<text transform="translate(585.0,396.0) rotate(90)" x="0" y="3.24" font-size="13.5" fill="#ffffff" stroke="#ffffff" stroke-width="0.45" text-anchor="middle" font-weight="bold">Галерея</text>
<text transform="translate(571.0,396.0) rotate(90)" x="0" y="3.24" font-size="13.5" fill="#ffffff" stroke="#ffffff" stroke-width="0.45" text-anchor="middle" font-weight="bold">костюмов</text>
<text transform="translate(667.9,398.0) rotate(90)" x="0" y="3.24" font-size="13.5" fill="#ffffff" stroke="#ffffff" stroke-width="0.45" text-anchor="middle" font-weight="bold">Зал Нового</text>
<text transform="translate(654.6,398.0) rotate(90)" x="0" y="3.24" font-size="13.5" fill="#ffffff" stroke="#ffffff" stroke-width="0.45" text-anchor="middle" font-weight="bold">времени</text>
<text x="565.6" y="448.95" font-size="7.6" fill="#ffffff" stroke="#ffffff" stroke-width="0.4" text-anchor="middle" font-weight="bold">Окно</text>
<text x="424.7" y="450.38" font-size="10.3" fill="#ffffff" stroke="#ffffff" stroke-width="0.4" text-anchor="middle" font-weight="bold">Коридор</text>
<text transform="translate(417.1,490.0) rotate(90)" x="0" y="2.47" font-size="10.3" fill="#ffffff" stroke="#ffffff" stroke-width="0.45" text-anchor="middle" font-weight="bold">Коллекция</text>
<text transform="translate(406.8,490.0) rotate(90)" x="0" y="2.47" font-size="10.3" fill="#ffffff" stroke="#ffffff" stroke-width="0.45" text-anchor="middle" font-weight="bold">слуховых</text>
<text transform="translate(397.2,490.0) rotate(90)" x="0" y="2.47" font-size="10.3" fill="#ffffff" stroke="#ffffff" stroke-width="0.45" text-anchor="middle" font-weight="bold">трубок*</text>
<text transform="translate(454.7,489.5) rotate(90)" x="0" y="2.64" font-size="11" fill="#ffffff" stroke="#ffffff" stroke-width="0.45" text-anchor="middle" font-weight="bold">Зал ману-</text>
<text transform="translate(442.7,489.5) rotate(90)" x="0" y="2.64" font-size="11" fill="#ffffff" stroke="#ffffff" stroke-width="0.45" text-anchor="middle" font-weight="bold">скриптов</text>
<text transform="translate(518.5,482.0) rotate(90)" x="0" y="3.24" font-size="13.5" fill="#ffffff" stroke="#ffffff" stroke-width="0.45" text-anchor="middle" font-weight="bold">Зал Средне-</text>
<text transform="translate(503.4,480.5) rotate(90)" x="0" y="3.24" font-size="13.5" fill="#ffffff" stroke="#ffffff" stroke-width="0.45" text-anchor="middle" font-weight="bold">вековья</text>
<text transform="translate(652.5,479.5) rotate(90)" x="0" y="3.24" font-size="13.5" fill="#ffffff" stroke="#ffffff" stroke-width="0.45" text-anchor="middle" font-weight="bold">Зал музы-</text>
<text transform="translate(638.6,479.5) rotate(90)" x="0" y="3.24" font-size="13.5" fill="#ffffff" stroke="#ffffff" stroke-width="0.45" text-anchor="middle" font-weight="bold">кальных</text>
<text transform="translate(625.3,479.5) rotate(90)" x="0" y="3.24" font-size="13.5" fill="#ffffff" stroke="#ffffff" stroke-width="0.45" text-anchor="middle" font-weight="bold">инструмен-</text>
<text transform="translate(612.0,479.5) rotate(90)" x="0" y="3.24" font-size="13.5" fill="#ffffff" stroke="#ffffff" stroke-width="0.45" text-anchor="middle" font-weight="bold">тов</text>
</g>
</g>
</svg></body></html>
